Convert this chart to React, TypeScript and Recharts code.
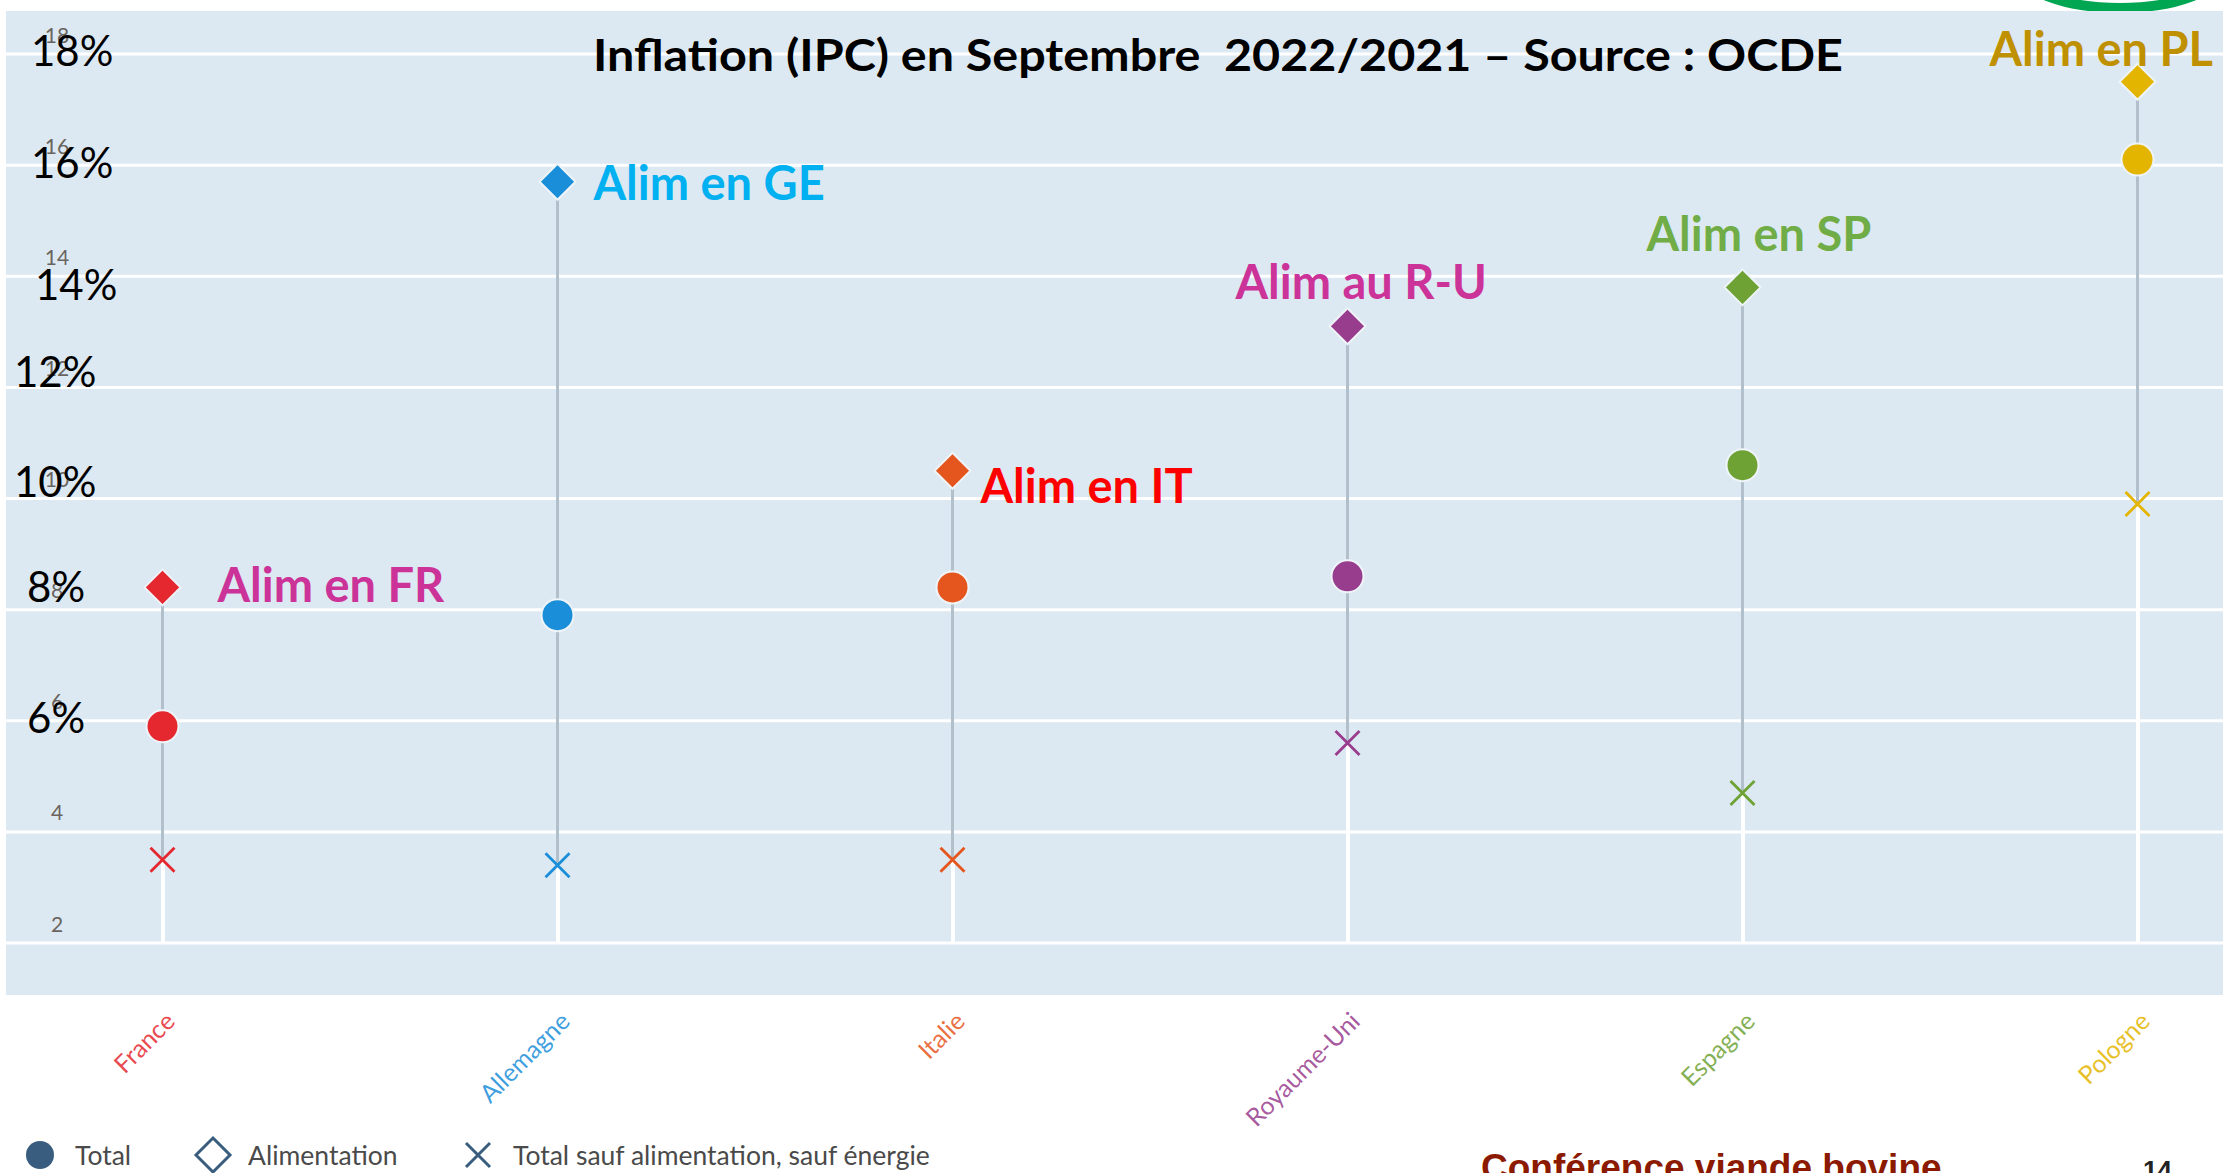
import React from 'react';
import { ComposedChart, Bar, Line, XAxis, YAxis, CartesianGrid, LabelList } from 'recharts';

// Inflation sept. 2022 / sept. 2021 (OCDE), en %
const COUNTRIES = ['France', 'Allemagne', 'Italie', 'Royaume-Uni', 'Espagne', 'Pologne'];
const TOTAL = [5.9, 7.9, 8.4, 8.6, 10.6, 16.1];
const FOOD = [8.4, 15.7, 10.5, 13.1, 13.8, 17.5];
const CORE = [3.5, 3.4, 3.5, 5.6, 4.7, 9.9];
const FOOD_NOTES = ['Alim en FR', 'Alim en GE', 'Alim en IT', 'Alim au R-U', 'Alim en SP', 'Alim en PL'];
const Y_TICKS = [2, 4, 6, 8, 10, 12, 14, 16, 18];
const PCT_TICKS = [6, 8, 10, 12, 14, 16, 18];
const FLOOR = 2;

const COUNTRY_COLORS = ['#E5282F', '#1A8ED8', '#E5561E', '#983C8E', '#6EA235', '#E3B500'];
const NOTE_COLORS = ['#CC3399', '#00B0F0', '#FF0000', '#CC3399', '#70AD47', '#BF9000'];

// placement des étiquettes ajoutées à la main (dx bord gauche, dy centre)
const NOTE_OFFSET: [number, number][] = [[55, -3], [36, 0], [28, 14], [-112, -45], [-96, -54], [-148, -34]];
const PCT_NUDGE: Record<number, [number, number]> = {
  18: [31, -4], 16: [31, -3], 14: [35, 8], 12: [14, -16], 10: [14, -18], 8: [27, -24], 6: [27, -4],
};

const W = 2223;
const H = 1173;
const PANEL = '#DDE9F2';
const FONT = 'Lato, "Open Sans", sans-serif';

const rows = COUNTRIES.map((name, i) => ({
  name,
  total: TOTAL[i],
  food: FOOD[i],
  core: CORE[i],
  note: FOOD_NOTES[i],
  stem: [FLOOR, CORE[i]],
  span: [CORE[i], FOOD[i]],
}));

function YTick({ y, payload }: any) {
  const v = payload.value as number;
  const n = PCT_NUDGE[v];
  return (
    <g>
      <text x={57} y={y - 20} textAnchor="middle" dominantBaseline="central" fontSize={21} fill="#6a6460" fontFamily={FONT}>
        {v}
      </text>
      {n && PCT_TICKS.includes(v) && (
        <text x={n[0]} y={y + n[1]} dominantBaseline="central" fontSize={42} fill="#000" fontFamily={FONT}>
          {v}%
        </text>
      )}
    </g>
  );
}

function XTick({ x, y, payload }: any) {
  const i = COUNTRIES.indexOf(payload.value);
  return (
    <text
      transform={`translate(${x + 14},${y + 80}) rotate(-45)`}
      textAnchor="end"
      fontSize={25}
      fill={COUNTRY_COLORS[i]}
      fillOpacity={0.85}
      fontFamily={FONT}
    >
      {payload.value}
    </text>
  );
}

const circleDot = (p: any) => (
  <circle key={`c${p.index}`} cx={p.cx} cy={p.cy} r={16} fill={COUNTRY_COLORS[p.index]} stroke="#EEF4F8" strokeWidth={2} />
);

const diamondDot = (p: any) => {
  const s = 18;
  return (
    <path
      key={`d${p.index}`}
      d={`M${p.cx},${p.cy - s}L${p.cx + s},${p.cy}L${p.cx},${p.cy + s}L${p.cx - s},${p.cy}Z`}
      fill={COUNTRY_COLORS[p.index]}
      stroke="#EEF4F8"
      strokeWidth={2}
    />
  );
};

const crossDot = (p: any) => {
  const s = 12;
  return (
    <path
      key={`x${p.index}`}
      d={`M${p.cx - s},${p.cy - s}L${p.cx + s},${p.cy + s}M${p.cx + s},${p.cy - s}L${p.cx - s},${p.cy + s}`}
      stroke={COUNTRY_COLORS[p.index]}
      strokeWidth={2.8}
      fill="none"
    />
  );
};

function NoteLabel(p: any) {
  const [dx, dy] = NOTE_OFFSET[p.index];
  return (
    <text
      x={p.x + dx}
      y={p.y + dy}
      dominantBaseline="central"
      fontSize={47}
      fontWeight={700}
      fill={NOTE_COLORS[p.index]}
      fontFamily={FONT}
    >
      {p.value}
    </text>
  );
}

function Legend() {
  const ink = '#385D7E';
  const txt = { fontFamily: FONT, fontSize: 26.5, fill: '#4a4a4a' };
  return (
    <svg width={W} height={60} style={{ position: 'absolute', left: 0, top: 1125 }}>
      <circle cx={40} cy={30} r={14} fill={ink} />
      <text x={75} y={30} dominantBaseline="central" {...txt}>Total</text>
      <path d="M213,13L230,30L213,47L196,30Z" fill="none" stroke={ink} strokeWidth={3} />
      <text x={248} y={30} dominantBaseline="central" {...txt}>Alimentation</text>
      <path d="M466,18L490,42M490,18L466,42" stroke={ink} strokeWidth={3} />
      <text x={513} y={30} dominantBaseline="central" {...txt}>Total sauf alimentation, sauf énergie</text>
    </svg>
  );
}

export default function App() {
  return (
    <div style={{ position: 'fixed', left: 0, top: 0, width: W, height: H, background: '#fff', overflow: 'hidden' }}>
      <svg width={W} height={H} style={{ position: 'absolute', left: 0, top: 0 }}>
        <ellipse cx={2120} cy={-30} rx={100} ry={38} fill="#fff" stroke="#00A651" strokeWidth={10} />
      </svg>
      <div style={{ position: 'absolute', left: 6, top: 11, width: W - 6, height: 984, background: PANEL }} />
      <div style={{ position: 'absolute', left: 0, top: 0 }}>
        <ComposedChart width={W} height={H} data={rows} margin={{ top: 54, right: -112, left: -36, bottom: 0 }}>
          <CartesianGrid horizontal vertical={false} stroke="#FFFFFF" strokeWidth={3} />
          <XAxis
            xAxisId="main"
            dataKey="name"
            type="category"
            height={230}
            axisLine={false}
            tickLine={false}
            tickSize={0}
            tickMargin={0}
            interval={0}
            tick={<XTick />}
          />
          <XAxis xAxisId="span" dataKey="name" type="category" hide />
          <YAxis
            domain={[2, 18]}
            ticks={Y_TICKS}
            width={1}
            interval={0}
            axisLine={false}
            tickLine={false}
            tick={<YTick />}
          />
          <Bar xAxisId="main" dataKey="stem" fill="#FFFFFF" barSize={4} isAnimationActive={false} />
          <Bar xAxisId="span" dataKey="span" fill="#B2C0CC" barSize={3} isAnimationActive={false} />
          <Line xAxisId="main" dataKey="core" stroke="none" dot={crossDot} activeDot={false} isAnimationActive={false} />
          <Line xAxisId="main" dataKey="total" stroke="none" dot={circleDot} activeDot={false} isAnimationActive={false} />
          <Line xAxisId="main" dataKey="food" stroke="none" dot={diamondDot} activeDot={false} isAnimationActive={false}>
            <LabelList dataKey="note" content={NoteLabel} />
          </Line>
        </ComposedChart>
      </div>
      <svg width={W} height={H} style={{ position: 'absolute', left: 0, top: 0, pointerEvents: 'none' }}>
        <text
          x={1218}
          y={54}
          textAnchor="middle"
          dominantBaseline="central"
          fontSize={44}
          fontWeight={700}
          fill="#000"
          fontFamily={FONT}
          textLength={1250}
          lengthAdjust="spacingAndGlyphs"
          style={{ whiteSpace: 'pre' }}
        >
          {'Inflation (IPC) en Septembre  2022/2021 – Source : OCDE'}
        </text>
        <text x={1481} y={1180} fontSize={37} fontWeight={700} fill="#8B1A00" fontFamily='"Liberation Sans", Arial, sans-serif'>
          Conférence viande bovine
        </text>
        <text x={2143} y={1179} fontSize={26} fontWeight={700} fill="#222" fontFamily='"Liberation Sans", Arial, sans-serif'>
          14
        </text>
      </svg>
      <Legend />
    </div>
  );
}
